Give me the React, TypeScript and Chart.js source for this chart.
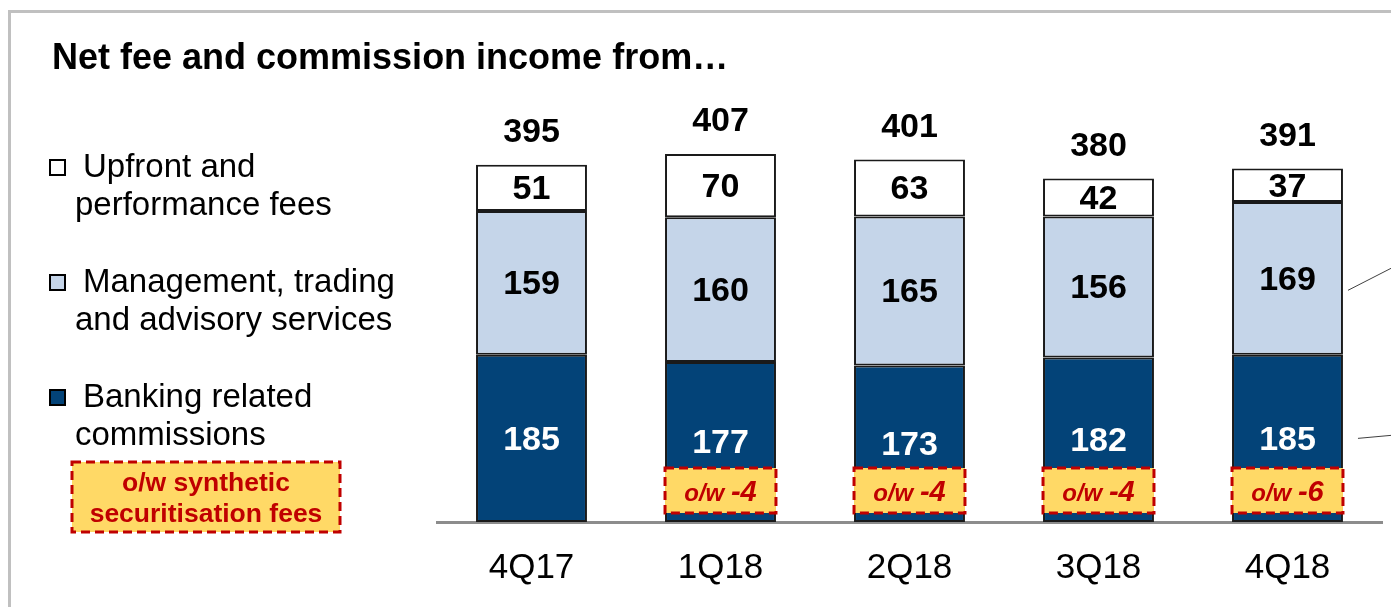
import React, { useEffect, useRef } from "react";
import { Chart, registerables } from "chart.js";

Chart.register(...registerables);

// ---------- data ----------
const categories = ["4Q17", "1Q18", "2Q18", "3Q18", "4Q18"];
const banking = [185, 177, 173, 182, 185];
const management = [159, 160, 165, 156, 169];
const upfront = [51, 70, 63, 42, 37];
const totals = [395, 407, 401, 380, 391];
const synthetic: (number | null)[] = [null, -4, -4, -4, -6];

const seriesLabels = [
  ["Upfront and", "performance fees"],
  ["Management, trading", "and advisory services"],
  ["Banking related", "commissions"],
];
const syntheticLegend = ["o/w synthetic", "securitisation fees"];
const chartTitle = "Net fee and commission income from\u2026";

// ---------- styles ----------
const FONT = '"Liberation Sans", Arial, sans-serif';
const DARK = "#034378";
const LIGHT = "#c5d5e9";
const WHITE = "#ffffff";
const YELLOW = "#ffd966";
const RED = "#c00000";
const W = 1391;
const H = 607;

const decorPlugin = {
  id: "decor",
  beforeDraw(chart: any) {
    const ctx: CanvasRenderingContext2D = chart.ctx;
    ctx.save();
    ctx.fillStyle = "#ffffff";
    ctx.fillRect(0, 0, W, H);
    // frame
    ctx.strokeStyle = "#c0c0c0";
    ctx.lineWidth = 3;
    ctx.strokeRect(9.5, 11.5, 3000, 3000);
    // title
    ctx.fillStyle = "#000";
    ctx.font = `bold 36px ${FONT}`;
    ctx.textBaseline = "alphabetic";
    ctx.textAlign = "left";
    ctx.fillText(chartTitle, 52, 69);

    // legend
    const colors = [WHITE, LIGHT, DARK];
    const rowY = [167, 282, 397];
    ctx.font = `33px ${FONT}`;
    ctx.textBaseline = "middle";
    for (let i = 0; i < 3; i++) {
      ctx.fillStyle = colors[i];
      ctx.fillRect(50, rowY[i] - 7, 15, 15);
      ctx.strokeStyle = "#000";
      ctx.lineWidth = 2;
      ctx.strokeRect(50, rowY[i] - 7, 15, 15);
      ctx.fillStyle = "#000";
      ctx.fillText(seriesLabels[i][0], 83, rowY[i] + 1);
      ctx.fillText(seriesLabels[i][1], 75, rowY[i] + 39);
    }
    // legend dashed box
    ctx.fillStyle = YELLOW;
    ctx.fillRect(72, 462, 268, 70);
    ctx.setLineDash([9, 5]);
    ctx.strokeStyle = RED;
    ctx.lineWidth = 3;
    ctx.strokeRect(72, 462, 268, 70);
    ctx.setLineDash([]);
    ctx.fillStyle = RED;
    ctx.font = `bold 26.5px ${FONT}`;
    ctx.textAlign = "center";
    ctx.fillText(syntheticLegend[0], 206, 484);
    ctx.fillText(syntheticLegend[1], 206, 515);
    ctx.restore();
  },
  afterDatasetsDraw(chart: any) {
    const ctx: CanvasRenderingContext2D = chart.ctx;
    const yScale = chart.scales.y;
    const zeroY = yScale.getPixelForValue(0);
    ctx.save();
    ctx.textAlign = "center";
    ctx.textBaseline = "middle";
    ctx.font = `bold 34px ${FONT}`;
    chart.data.datasets.forEach((ds: any, di: number) => {
      const meta = chart.getDatasetMeta(di);
      meta.data.forEach((el: any, j: number) => {
        const v = ds.data[j];
        ctx.fillStyle = di === 0 ? "#fff" : "#000";
        ctx.fillText(String(v), el.x, (el.y + el.base) / 2 + 2);
      });
    });
    // totals
    const topMeta = chart.getDatasetMeta(chart.data.datasets.length - 1);
    ctx.fillStyle = "#000";
    topMeta.data.forEach((el: any, j: number) => {
      ctx.fillText(String(totals[j]), el.x, yScale.getPixelForValue(totals[j]) - 32);
    });
    // synthetic boxes
    const darkMeta = chart.getDatasetMeta(0);
    darkMeta.data.forEach((el: any, j: number) => {
      const s = synthetic[j];
      if (s === null || s === undefined) return;
      const x0 = el.x - el.width / 2;
      const y0 = zeroY - 54;
      const bw = el.width;
      const bh = 45;
      ctx.fillStyle = YELLOW;
      ctx.fillRect(x0, y0, bw, bh);
      ctx.setLineDash([9, 5]);
      ctx.strokeStyle = RED;
      ctx.lineWidth = 3;
      ctx.strokeRect(x0, y0, bw, bh);
      ctx.setLineDash([]);
      ctx.fillStyle = RED;
      ctx.textBaseline = "alphabetic";
      ctx.textAlign = "left";
      const a = "o/w ";
      const b = String(s);
      ctx.font = `italic bold 24px ${FONT}`;
      const wa = ctx.measureText(a).width;
      ctx.font = `italic bold 29px ${FONT}`;
      const wb = ctx.measureText(b).width;
      const sx = el.x - (wa + wb) / 2;
      ctx.font = `italic bold 24px ${FONT}`;
      ctx.fillText(a, sx, y0 + 33);
      ctx.font = `italic bold 29px ${FONT}`;
      ctx.fillText(b, sx + wa, y0 + 33);
    });
    // callout lines at right edge
    const lastI = darkMeta.data.length - 1;
    const dEl = darkMeta.data[lastI];
    const lEl = chart.getDatasetMeta(1).data[lastI];
    const right = dEl.x + dEl.width / 2;
    const midL = (lEl.y + lEl.base) / 2;
    const midD = (dEl.y + dEl.base) / 2;
    ctx.strokeStyle = "#404040";
    ctx.lineWidth = 1;
    ctx.beginPath();
    ctx.moveTo(right + 5, midL + 12);
    ctx.lineTo(W, midL - 10);
    ctx.moveTo(right + 15, midD);
    ctx.lineTo(W, midD - 3);
    ctx.stroke();
    ctx.restore();
  },
};

export default function App() {
  const ref = useRef<HTMLCanvasElement>(null);
  useEffect(() => {
    if (!ref.current) return;
    const common = {
      borderColor: "#1a1a1a",
      borderWidth: 2,
      borderSkipped: false,
      barPercentage: 0.587,
      categoryPercentage: 1,
    };
    const chart = new Chart(ref.current, {
      type: "bar",
      data: {
        labels: categories,
        datasets: [
          { label: "Banking related commissions", data: banking, backgroundColor: DARK, ...common },
          { label: "Management, trading and advisory services", data: management, backgroundColor: LIGHT, ...common },
          { label: "Upfront and performance fees", data: upfront, backgroundColor: WHITE, ...common },
        ],
      },
      options: {
        responsive: false,
        animation: false,
        devicePixelRatio: 1,
        layout: { padding: { left: 437, right: 9, top: 88, bottom: 0 } },
        plugins: { legend: { display: false }, tooltip: { enabled: false }, title: { display: false } },
        scales: {
          x: {
            stacked: true,
            grid: { display: false, drawTicks: false },
            border: { display: true, color: "#8c8c8c", width: 3 },
            ticks: { color: "#000", font: { family: FONT, size: 35 }, padding: 25 },
            afterFit: (s: any) => {
              s.height = 85;
            },
          },
          y: { stacked: true, display: false, min: 0, max: 480 },
        },
      },
      plugins: [decorPlugin],
    } as any);
    return () => chart.destroy();
  }, []);
  return (
    <div style={{ position: "fixed", left: 0, top: 0, width: W, height: H, background: "#fff" }}>
      <canvas ref={ref} width={W} height={H} style={{ display: "block", width: W, height: H }} />
    </div>
  );
}
